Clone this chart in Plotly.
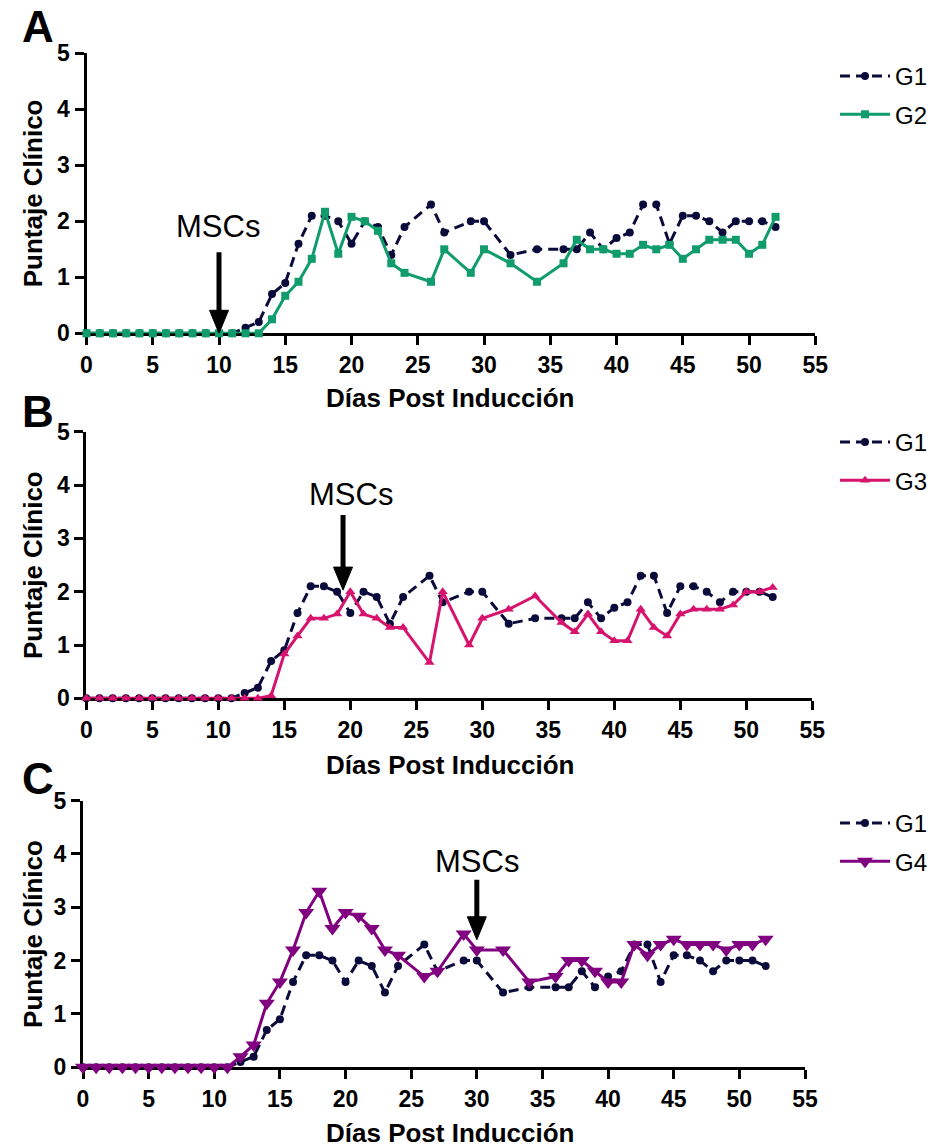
import plotly.graph_objects as go

W, H = 935, 1148

days = list(range(0, 25)) + [26, 27, 29, 30, 32, 34] + list(range(36, 53))

g1 = [0]*12 + [0.1, 0.2, 0.7, 0.9, 1.6, 2.1, 2.1, 2.0, 1.6, 2.0, 1.9, 1.4, 1.9,
               2.3, 1.8, 2.0, 2.0, 1.4, 1.5,
               1.5, 1.5, 1.8, 1.5, 1.7, 1.8, 2.3, 2.3, 1.6, 2.1, 2.1, 2.0, 1.8, 2.0, 2.0, 2.0, 1.9]
g2 = [0]*14 + [0.25, 0.67, 0.92, 1.33, 2.17, 1.42, 2.08, 2.0, 1.83, 1.25, 1.08,
               0.92, 1.5, 1.08, 1.5, 1.25, 0.92,
               1.25, 1.67, 1.5, 1.5, 1.42, 1.42, 1.58, 1.5, 1.58, 1.33, 1.5, 1.67, 1.67, 1.67, 1.42, 1.58, 2.08]
g3 = [0]*14 + [0.05, 0.83, 1.17, 1.5, 1.5, 1.58, 2.0, 1.58, 1.5, 1.33, 1.33,
               0.67, 2.0, 1.0, 1.5, 1.67, 1.92,
               1.42, 1.25, 1.58, 1.25, 1.08, 1.08, 1.67, 1.33, 1.17, 1.58, 1.67, 1.67, 1.67, 1.75, 2.0, 2.0, 2.08]
g4 = [0]*12 + [0.2, 0.42, 1.2, 1.6, 2.2, 2.9, 3.3, 2.6, 2.9, 2.83, 2.6, 2.2, 2.1,
               1.7, 1.8, 2.5, 2.2, 2.2, 1.6,
               1.7, 2.0, 2.0, 1.8, 1.6, 1.6, 2.3, 2.1, 2.3, 2.4, 2.3, 2.3, 2.3, 2.2, 2.3, 2.3, 2.4]

x_ticks = list(range(0, 56, 5))
y_ticks = [0, 1, 2, 3, 4, 5]
panel_letters = ["A", "B", "C"]
compare_names = ["G2", "G3", "G4"]
msc_days = [10, 19.45, 30]
msc_vals = [0, 2.03, 2.39]

FONT = "Liberation Sans, Arial, sans-serif"
C_G1 = "#0b0b3b"
colors = ["#119c6b", "#d6136d", "#800080"]
symbols = ["square", "triangle-up", "triangle-down"]
msizes = [8, 9, 14]

# panel geometry in pixels: x of day 0, x of day 55, y of value 0, y of value 5
geo = [(86.5, 815.3, 333.3, 53.3), (86.3, 812.3, 698.3, 431.8), (83.0, 805.0, 1067.3, 800.5)]

def px(x):
    return x / W

def py(y):
    return 1 - y / H

fig = go.Figure()
series = [g2, g3, g4]
layout = dict(width=W, height=H, margin=dict(l=0, r=0, t=0, b=0, autoexpand=False),
              paper_bgcolor="white", plot_bgcolor="white", showlegend=True)
annotations = []
shapes = []

letter_y = [26, 411, 778]
xtitle_y = [398, 765, 1133]
msc_text = [(218, 226), (351, 494), (477, 861)]
shaft_len = [81, 75, 60]
legend_top = [54, 420, 801]

for i in range(3):
    sfx = "" if i == 0 else str(i + 1)
    xa, ya = "x" + sfx, "y" + sfx
    leg = "legend" + sfx
    x0, x1, y0, y5 = geo[i]
    fig.add_trace(go.Scatter(x=days, y=g1, name="G1", mode="lines+markers",
                             xaxis=xa, yaxis=ya, legend=leg, legendgroup="a%d" % i,
                             line=dict(color=C_G1, width=3, dash="10px,6px"),
                             marker=dict(symbol="circle", size=8, color=C_G1),
                             cliponaxis=False))
    fig.add_trace(go.Scatter(x=days, y=series[i], name=compare_names[i], mode="lines+markers",
                             xaxis=xa, yaxis=ya, legend=leg, legendgroup="b%d" % i,
                             line=dict(color=colors[i], width=3),
                             marker=dict(symbol=symbols[i], size=msizes[i], color=colors[i]),
                             cliponaxis=False))
    axis_common = dict(showline=True, linewidth=3, linecolor="black", ticks="outside",
                       ticklen=9, tickwidth=3, tickcolor="black", showgrid=False,
                       zeroline=False, layer="below traces",
                       tickfont=dict(family=FONT, size=23, color="black", weight="bold"))
    layout["xaxis" + sfx] = dict(axis_common, domain=[px(x0), px(x1)], range=[0, 55],
                                 tickvals=x_ticks, anchor=ya)
    layout["yaxis" + sfx] = dict(axis_common, domain=[py(y0), py(y5)], range=[0, 5],
                                 tickvals=y_ticks, anchor=xa)
    layout[leg] = dict(x=px(835), y=py(legend_top[i]), xanchor="left", yanchor="top",
                       font=dict(family=FONT, size=24, color="black"), itemwidth=50,
                       traceorder="grouped", tracegroupgap=4, bgcolor="rgba(0,0,0,0)")
    # panel letter
    annotations.append(dict(text=panel_letters[i], x=px(38), y=py(letter_y[i]), xref="paper",
                            yref="paper", showarrow=False, xanchor="center", yanchor="middle",
                            font=dict(family=FONT, size=44, color="black", weight="bold")))
    # x title
    annotations.append(dict(text="Días Post Inducción", x=px(450), y=py(xtitle_y[i]), xref="paper",
                            yref="paper", showarrow=False, xanchor="center", yanchor="middle",
                            font=dict(family=FONT, size=26, color="black", weight="bold")))
    # y title
    annotations.append(dict(text="Puntaje Clínico", x=px(33), y=py((y0 + y5) / 2), xref="paper",
                            yref="paper", showarrow=False, xanchor="center", yanchor="middle",
                            textangle=-90,
                            font=dict(family=FONT, size=26, color="black", weight="bold")))
    # MSCs label
    annotations.append(dict(text="MSCs", x=px(msc_text[i][0]), y=py(msc_text[i][1]), xref="paper",
                            yref="paper", showarrow=False, xanchor="center", yanchor="middle",
                            font=dict(family=FONT, size=31, color="black")))
    # arrow: shaft + head, sized in pixels, anchored at tip
    shapes.append(dict(type="line", xref=xa, yref=ya, xsizemode="pixel", ysizemode="pixel",
                       xanchor=msc_days[i], yanchor=msc_vals[i], x0=0, x1=0, y0=20, y1=shaft_len[i],
                       line=dict(color="black", width=5)))
    shapes.append(dict(type="path", xref=xa, yref=ya, xsizemode="pixel", ysizemode="pixel",
                       xanchor=msc_days[i], yanchor=msc_vals[i],
                       path="M-9.5,23 L9.5,23 L0,0 Z", fillcolor="black",
                       line=dict(color="black", width=1)))

layout["annotations"] = annotations
layout["shapes"] = shapes
fig.update_layout(**layout)
fig.write_html("out.html")
